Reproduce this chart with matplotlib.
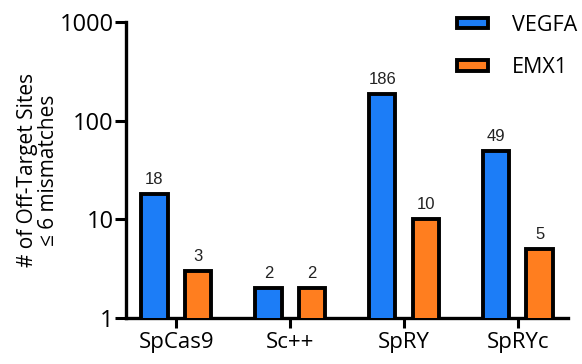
import numpy as np
import matplotlib
matplotlib.use("Agg")
import matplotlib.pyplot as plt
from matplotlib.patches import Patch

# ---------------------------------------------------------------------------
# Data
# ---------------------------------------------------------------------------
CATEGORIES = ["SpCas9", "Sc++", "SpRY", "SpRYc"]
VEGFA = [18, 2, 186, 49]
EMX1 = [3, 2, 10, 5]

BLUE = "#1C7DF7"
ORANGE = "#FF7E1F"
FONT = ["Open Sans", "DejaVu Sans"]

plt.rcParams["font.family"] = FONT


def main() -> None:
    fig = plt.figure(figsize=(5.82, 3.64), dpi=100)
    ax = fig.add_axes([0.2165, 0.126, 0.7595, 0.8136])

    x = np.arange(len(CATEGORIES))
    width = 0.23
    off = 0.19

    for vals, color, sign in ((VEGFA, BLUE, -1), (EMX1, ORANGE, 1)):
        bars = ax.bar(x + sign * off, vals, width=width, color=color,
                      edgecolor="black", linewidth=2.8, zorder=3)
        for b, v in zip(bars, vals):
            ax.annotate(str(v), (b.get_x() + b.get_width() / 2, v),
                        xytext=(0, 5), textcoords="offset points",
                        ha="center", va="bottom", fontsize=12,
                        family=["Liberation Sans", "DejaVu Sans"],
                        color="#222222")

    ax.set_yscale("log")
    ax.set_ylim(1, 1000)
    ax.set_xlim(-0.44, 3.44)
    ax.set_yticks([1, 10, 100, 1000])
    ax.set_yticklabels(["1", "10", "100", "1000"])
    ax.yaxis.set_minor_locator(plt.NullLocator())
    ax.set_xticks(x)
    ax.set_xticklabels(CATEGORIES)

    ax.tick_params(axis="y", which="major", length=8, width=2.2, labelsize=17, pad=1)
    ax.tick_params(axis="x", which="major", length=7, width=2.2, labelsize=16, pad=3)

    for side in ("top", "right"):
        ax.spines[side].set_visible(False)
    for side in ("left", "bottom"):
        ax.spines[side].set_linewidth(2.4)

    ax.set_ylabel("# of Off-Target Sites\n\u2264 6 mismatches", fontsize=15,
                  linespacing=1.05, labelpad=0)

    handles = [Patch(facecolor=BLUE, edgecolor="black", linewidth=2.8, label="VEGFA"),
               Patch(facecolor=ORANGE, edgecolor="black", linewidth=2.8, label="EMX1")]
    ax.legend(handles=handles, loc="upper right", bbox_to_anchor=(1.065, 1.09),
              frameon=False, fontsize=15.5, handlelength=1.45, handleheight=0.4,
              labelspacing=1.0, handletextpad=1.1)

    fig.savefig("out.png", dpi=100)
    plt.close(fig)


if __name__ == "__main__":
    main()
